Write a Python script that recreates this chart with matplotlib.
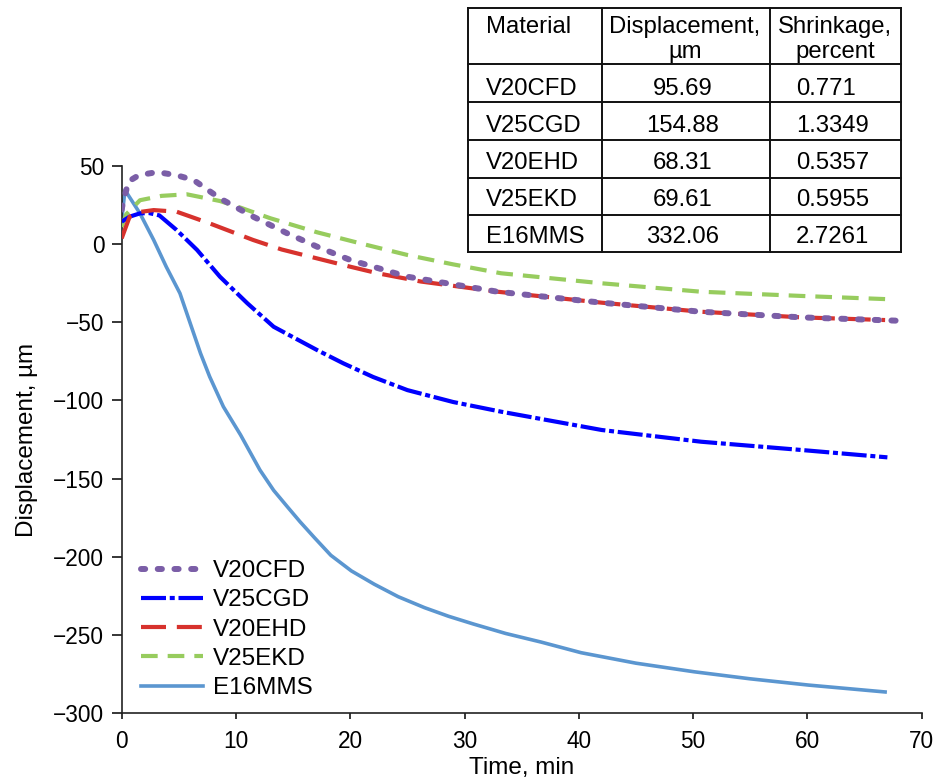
"""
Displacement vs time for five materials, with a summary table of
total displacement and shrinkage.
"""

import matplotlib
matplotlib.use('Agg')
import matplotlib.pyplot as plt

# Curve data (time in min, displacement in um)
t_v20cfd = [0, 0.1, 0.6, 1.5, 3.1, 4.8, 6.3, 8.6, 11.5, 14.5, 17.1, 20, 25, 32.9, 42, 50.7, 59.5, 67.8]
d_v20cfd = [22, 26, 40, 44, 46, 44, 40.9, 29.2, 17.5, 6.8, -1.7, -10.2, -20.9, -30.5, -37.5, -43.3, -46.9, -49]

t_v25cgd = [0, 0.7, 1.6, 2.4, 3.3, 4.8, 6.6, 8.6, 11, 13.3, 17.1, 19.4, 22, 25, 29, 33.2, 42, 50.7, 59.5, 67]
d_v25cgd = [14.3, 17.5, 19.6, 19.8, 18.3, 9, -3.8, -20.9, -37.9, -52.9, -67.8, -76.3, -85, -93.4, -101, -107.2, -118.9, -126.4, -131.7, -136.4]

t_v20ehd = [0, 0.7, 1.6, 2.8, 4.8, 7.7, 11.5, 14, 17.1, 20, 22.4, 26.2, 32.9, 42, 50.7, 59.5, 66.8]
d_v20ehd = [3.6, 17.5, 20.5, 21.7, 20.7, 13.2, 2.6, -3.5, -9.2, -14.5, -18.7, -24, -30.5, -37.5, -43.3, -46.9, -48.6]

t_v25ekd = [0, 0.4, 1.6, 3.5, 5.7, 8.6, 10.5, 13, 17.1, 20.9, 25, 29, 33.2, 42, 50.7, 59.5, 66.8]
d_v25ekd = [11, 19, 28, 30.8, 31.8, 27.5, 23, 16.5, 7.5, 0.4, -7, -13, -18.7, -25.1, -30.5, -33.2, -35.2]

t_e16mms = [0, 0.29, 1.6, 2.8, 3.9, 5.1, 6.0, 6.9, 7.7, 8.9, 10.4, 12.1, 13.3, 14.5, 15.6, 16.9, 18.3,
            20.1, 22.1, 24.2, 26.5, 28.6, 30.8, 33.6, 36.7, 40.2, 45, 50.1, 55, 60.1, 66.8]
d_e16mms = [15, 34.5, 19.6, 2.6, -14.5, -31.5, -50.7, -69.9, -84.8, -104, -122, -144.5, -157.5, -168, -177.5, -188, -199,
            -209, -217.5, -225.5, -232.5, -238, -243, -249, -254.5, -261.3, -268, -273.5, -278, -282, -286.4]

# Summary table
materials = ['V20CFD', 'V25CGD', 'V20EHD', 'V25EKD', 'E16MMS']
displacement = ['95.69', '154.88', '68.31', '69.61', '332.06']
shrinkage = ['0.771', '1.3349', '0.5357', '0.5955', '2.7261']

x_ticks = [0, 10, 20, 30, 40, 50, 60, 70]
y_ticks = [-300, -250, -200, -150, -100, -50, 0, 50]

plt.rcParams['font.family'] = ['Liberation Sans', 'DejaVu Sans']

fig = plt.figure(figsize=(9.38, 7.8), dpi=100)
ax = fig.add_axes([0.1297, 0.0856, 0.8529, 0.7018])

ax.plot(t_v20cfd, d_v20cfd, color='#7B5EA7', lw=4.3, dashes=(0.7, 2.1),
        dash_capstyle='round', label='V20CFD', zorder=6)
ax.plot(t_v25cgd, d_v25cgd, color='#0000FF', lw=3, dashes=(6, 0.9, 1.2, 0.9),
        label='V25CGD', zorder=4)
ax.plot(t_v20ehd, d_v20ehd, color='#D7322D', lw=3, dashes=(6, 2.6),
        label='V20EHD', zorder=5)
ax.plot(t_v25ekd, d_v25ekd, color='#97CC5E', lw=3, dashes=(4, 2.4),
        label='V25EKD', zorder=3)
ax.plot(t_e16mms, d_e16mms, color='#5B96D0', lw=2.6, label='E16MMS', zorder=2)

ax.set_xlim(0, 70)
ax.set_ylim(-300, 50)
ax.set_xticks(x_ticks)
ax.set_yticks(y_ticks)
ax.spines['top'].set_visible(False)
ax.spines['right'].set_visible(False)
for s in ['left', 'bottom']:
    ax.spines[s].set_linewidth(1.2)
    ax.spines[s].set_color('#222222')
ax.tick_params(axis='y', direction='out', length=7.5, width=1.1, pad=5, labelsize=16.3)
ax.tick_params(axis='x', direction='out', length=4, width=1.1, pad=8, labelsize=16.3)
ax.set_xlabel('Time, min', fontsize=17.5, labelpad=3)
ax.set_ylabel('Displacement, µm', fontsize=17.5, labelpad=11)

fig.legend(loc='upper left', bbox_to_anchor=(141 / 938, 1 - 560 / 780),
           frameon=False, fontsize=17.5, handlelength=2.55, handletextpad=0.4,
           labelspacing=0.3, borderpad=0, borderaxespad=0)

# Table drawn in pixel coordinates on an overlay axes
tax = fig.add_axes([0, 0, 1, 1])
tax.set_xlim(0, 938)
tax.set_ylim(780, 0)
tax.axis('off')

col_x = [468.3, 601.7, 770, 900.7]
row_y = [8.3, 64, 102.3, 140, 177.7, 215, 252.3]
tax.fill_between([col_x[0], col_x[-1]], row_y[0], row_y[-1], color='white', zorder=1)
for x in col_x:
    tax.plot([x, x], [row_y[0], row_y[-1]], color='#111111', lw=1.4, zorder=2)
for y in row_y:
    tax.plot([col_x[0], col_x[-1]], [y, y], color='#111111', lw=1.4, zorder=2)

fs = 17.2
tax.text(486, 33.3, 'Material', fontsize=fs, ha='left', va='baseline')
tax.text(685, 33.3, 'Displacement,', fontsize=fs, ha='center', va='baseline')
tax.text(685, 58.3, 'µm', fontsize=fs, ha='center', va='baseline')
tax.text(835, 33.3, 'Shrinkage,', fontsize=fs, ha='center', va='baseline')
tax.text(835, 58.3, 'percent', fontsize=fs, ha='center', va='baseline')
for i in range(len(materials)):
    yb = 95 + i * 37.1
    tax.text(486, yb, materials[i], fontsize=fs, ha='left', va='baseline')
    tax.text(683, yb, displacement[i], fontsize=fs, ha='center', va='baseline')
    tax.text(796, yb, shrinkage[i], fontsize=fs, ha='left', va='baseline')

fig.savefig('out.png', dpi=100)
